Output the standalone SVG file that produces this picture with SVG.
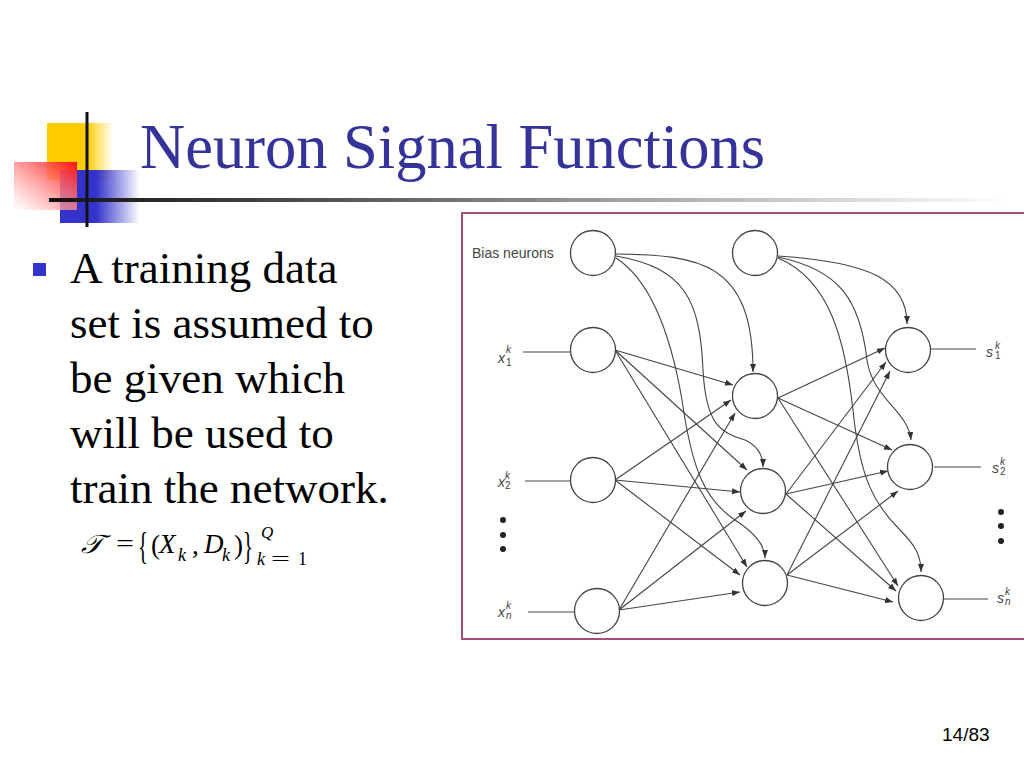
<svg xmlns="http://www.w3.org/2000/svg" width="1024" height="768" viewBox="0 0 1024 768">
<defs>
<linearGradient id="gY" x1="0" y1="0" x2="1" y2="0"><stop offset="0" stop-color="#FFCC00"/><stop offset="0.6" stop-color="#FFCC00"/><stop offset="1" stop-color="#FFCC00" stop-opacity="0"/></linearGradient>
<linearGradient id="gB" x1="0" y1="0" x2="1" y2="0"><stop offset="0" stop-color="#3333CC"/><stop offset="0.45" stop-color="#3333CC"/><stop offset="1" stop-color="#3333CC" stop-opacity="0"/></linearGradient>
<linearGradient id="gR" x1="1" y1="0" x2="0" y2="1"><stop offset="0" stop-color="#FF1010"/><stop offset="1" stop-color="#FFFFFF" stop-opacity="0.6"/></linearGradient>
<linearGradient id="gL" x1="0" y1="0" x2="1" y2="0"><stop offset="0" stop-color="#111"/><stop offset="0.3" stop-color="#555"/><stop offset="0.7" stop-color="#bbb"/><stop offset="1" stop-color="#fff"/></linearGradient>
<marker id="ah" markerUnits="userSpaceOnUse" markerWidth="9" markerHeight="7" refX="8" refY="3.5" orient="auto"><path d="M0,0.5 L8,3.5 L0,6.5 Z" fill="#333"/></marker>
</defs>
<style>
.title{font-family:"Liberation Serif","Times New Roman",serif;font-size:62.5px;fill:#333399}
.body{font-family:"Liberation Serif","Times New Roman",serif;font-size:45px;fill:#000}
.fm{font-family:"Liberation Serif","Times New Roman",serif;fill:#000}
.lbl{font-family:"Liberation Sans",Arial,sans-serif;fill:#444}
.it{font-style:italic}
.node{fill:#fff;stroke:#444;stroke-width:1.3}
.c{fill:none;stroke:#444;stroke-width:1.1}
.a{fill:none;stroke:#444;stroke-width:1.1;marker-end:url(#ah)}
.dot{fill:#222}
</style>
<rect width="1024" height="768" fill="#fff"/>
<g id="logo">
<rect x="47" y="123" width="66" height="57" fill="url(#gY)"/>
<rect x="60" y="170" width="80" height="53" fill="url(#gB)"/>
<rect x="14" y="162" width="63" height="48" fill="url(#gR)"/>
<rect x="49" y="198" width="960" height="4" fill="url(#gL)"/>
<rect x="85.5" y="112" width="3" height="115" fill="#111"/>
</g>
<text class="title" x="140" y="168">Neuron Signal Functions</text>
<rect x="33" y="263" width="13" height="13" fill="#3333CC"/>
<g class="body">
<text x="70" y="283">A training data</text>
<text x="70" y="338">set is assumed to</text>
<text x="70" y="393">be given which</text>
<text x="70" y="448">will be used to</text>
<text x="70" y="503">train the network.</text>
</g>
<g id="formula" class="fm">
<text x="81" y="553" font-size="26" class="it" textLength="22" lengthAdjust="spacingAndGlyphs">𝒯</text>
<text x="116" y="552" font-size="26" textLength="18" lengthAdjust="spacingAndGlyphs">=</text>
<text x="138" y="559" font-size="38" textLength="10" lengthAdjust="spacingAndGlyphs">{</text>
<text x="151" y="554" font-size="27">(</text>
<text x="159" y="553" font-size="27" class="it">X</text>
<text x="178" y="561" font-size="18" class="it">k</text>
<text x="192" y="554" font-size="27">,</text>
<text x="204" y="553" font-size="27" class="it">D</text>
<text x="222" y="561" font-size="18" class="it">k</text>
<text x="234" y="554" font-size="27">)</text>
<text x="243" y="559" font-size="38" textLength="10" lengthAdjust="spacingAndGlyphs">}</text>
<text x="261" y="538" font-size="17" class="it">Q</text>
<text x="257" y="565" font-size="18" class="it">k</text>
<text x="271" y="565" font-size="18" textLength="19" lengthAdjust="spacingAndGlyphs">=</text>
<text x="298" y="565" font-size="18">1</text>
</g>
<text x="942" y="741" font-family="Liberation Sans,Arial,sans-serif" font-size="19" fill="#000">14/83</text>
<rect x="462" y="213" width="600" height="426" fill="none" stroke="#A0507A" stroke-width="2"/>
<text class="lbl" x="472" y="258" font-size="14">Bias neurons</text>
<g class="lbl">
<text x="498" y="363" font-size="14" class="it">x</text><text x="506" y="353" font-size="10" class="it">k</text><text x="506" y="366" font-size="10">1</text>
<text x="498" y="487" font-size="14" class="it">x</text><text x="505" y="479" font-size="10" class="it">k</text><text x="505" y="489" font-size="10">2</text>
<text x="498" y="617" font-size="14" class="it">x</text><text x="506" y="609" font-size="10" class="it">k</text><text x="506" y="619" font-size="10" class="it">n</text>
<text x="986" y="357" font-size="14" class="it">s</text><text x="995" y="349" font-size="10" class="it">k</text><text x="995" y="359" font-size="10">1</text>
<text x="992" y="473" font-size="14" class="it">s</text><text x="1000" y="465" font-size="10" class="it">k</text><text x="1000" y="475" font-size="10">2</text>
<text x="997" y="603" font-size="14" class="it">s</text><text x="1005" y="595" font-size="10" class="it">k</text><text x="1005" y="605" font-size="10" class="it">n</text>
</g>
<g id="dots">
<circle class="dot" cx="503" cy="520" r="3"/><circle class="dot" cx="503" cy="535" r="3"/><circle class="dot" cx="503" cy="549" r="3"/>
<circle class="dot" cx="1001" cy="512" r="3"/><circle class="dot" cx="1001" cy="526" r="3"/><circle class="dot" cx="1001" cy="541" r="3"/>
</g>
<g id="connectors">
<line class="c" x1="523" y1="352" x2="570" y2="352"/>
<line class="c" x1="525" y1="481" x2="570" y2="481"/>
<line class="c" x1="528" y1="612" x2="574" y2="612"/>
<line class="c" x1="931" y1="349" x2="976" y2="349"/>
<line class="c" x1="934" y1="467" x2="981" y2="467"/>
<line class="c" x1="944" y1="599" x2="988" y2="599"/>
<path class="a" d="M616,254 C700,255 753,262 753,372"/>
<path class="a" d="M616,256 C685,268 700,300 703,370 C706,425 720,432 745,440 C758,446 763,455 763,467"/>
<path class="a" d="M616,258 C650,280 670,330 682,400 C692,470 705,500 735,520 C755,533 765,545 765,558"/>
<path class="a" d="M778,256 C870,262 907,280 907,324"/>
<path class="a" d="M778,257 C840,270 860,300 867,360 C873,400 908,410 911,440"/>
<path class="a" d="M778,258 C830,280 845,340 853,410 C860,480 875,505 900,530 C915,545 921,555 921,572"/>
<line class="a" x1="615" y1="350" x2="733" y2="385"/>
<line class="a" x1="615" y1="350" x2="747" y2="470"/>
<line class="a" x1="615" y1="350" x2="747" y2="567"/>
<line class="a" x1="615" y1="480" x2="731" y2="400"/>
<line class="a" x1="615" y1="480" x2="740" y2="492"/>
<line class="a" x1="615" y1="480" x2="740" y2="575"/>
<line class="a" x1="619" y1="610" x2="735" y2="413"/>
<line class="a" x1="619" y1="610" x2="746" y2="511"/>
<line class="a" x1="619" y1="610" x2="740" y2="592"/>
<line class="a" x1="778" y1="398" x2="885" y2="348"/>
<line class="a" x1="778" y1="398" x2="892" y2="450"/>
<line class="a" x1="778" y1="398" x2="898" y2="586"/>
<line class="a" x1="786" y1="494" x2="886" y2="362"/>
<line class="a" x1="786" y1="494" x2="888" y2="471"/>
<line class="a" x1="786" y1="494" x2="896" y2="591"/>
<line class="a" x1="787" y1="575" x2="890" y2="371"/>
<line class="a" x1="787" y1="575" x2="898" y2="491"/>
<line class="a" x1="787" y1="575" x2="893" y2="602"/>
</g>
<g id="node-bias1"><circle class="node" cx="593" cy="253" r="22.5"/></g>
<g id="node-x1"><circle class="node" cx="593" cy="350" r="22.5"/></g>
<g id="node-x2"><circle class="node" cx="593" cy="480" r="22.5"/></g>
<g id="node-xn"><circle class="node" cx="597" cy="611" r="22.5"/></g>
<g id="node-bias2"><circle class="node" cx="755" cy="253" r="22.5"/></g>
<g id="node-h1"><circle class="node" cx="755" cy="396" r="22.5"/></g>
<g id="node-h2"><circle class="node" cx="763" cy="491" r="22.5"/></g>
<g id="node-h3"><circle class="node" cx="765" cy="583" r="22.5"/></g>
<g id="node-o1"><circle class="node" cx="908" cy="350" r="22.5"/></g>
<g id="node-o2"><circle class="node" cx="910" cy="467" r="22.5"/></g>
<g id="node-o3"><circle class="node" cx="921" cy="598" r="22.5"/></g>
</svg>
